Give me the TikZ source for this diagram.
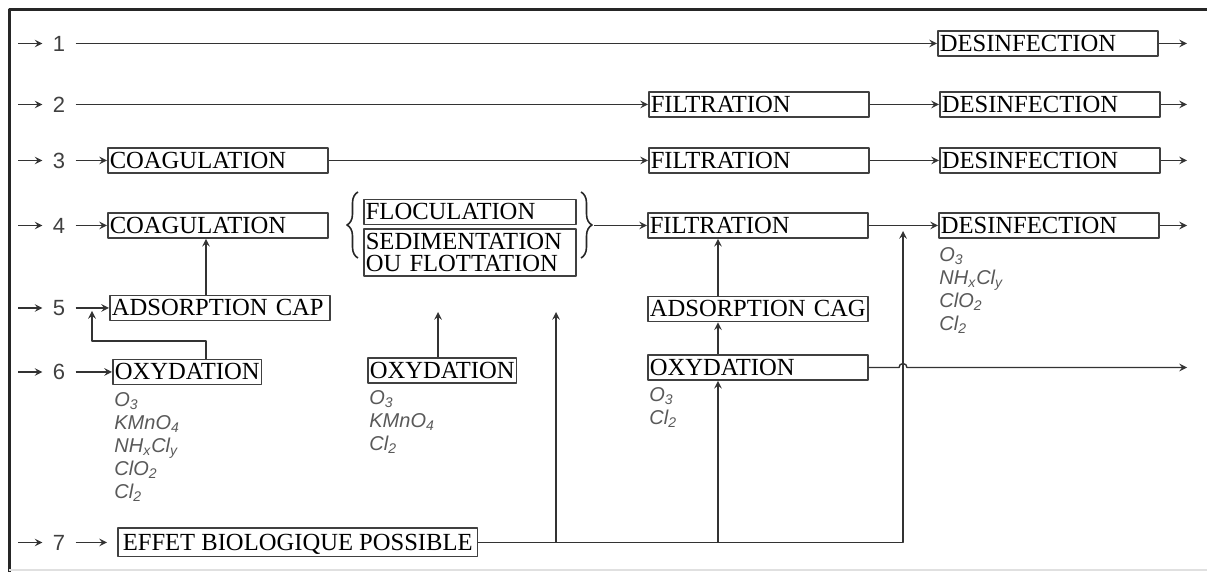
\documentclass[tikz,border=0pt]{standalone}
\usepackage{fontspec}
\setmainfont{Liberation Serif}
\newfontfamily\arialfont{Liberation Sans}
\usetikzlibrary{decorations.pathreplacing}

\tikzset{
  box/.style={draw=black!75, line width=0.8pt, anchor=west, align=left,
    inner xsep=1pt, inner ysep=0.65pt, text height=9.6pt, text depth=1.6pt,
    font=\fontsize{12.3}{11}\selectfont},
  wide/.style={text width=108pt},
  num/.style={font=\arialfont\fontsize{11}{13}\selectfont, text=black!75, inner xsep=5pt},
  chem/.style={anchor=north west, align=left, inner sep=0pt, text=black!65,
    font=\arialfont\itshape\fontsize{10}{11.5}\selectfont},
  link/.style={->, draw=black!80, line width=0.7pt},
  accolade/.style={decorate, decoration={brace, amplitude=5.5pt}, draw=black!85, line width=0.8pt}
}

\begin{document}
\begin{tikzpicture}[x=0.5pt, y=-0.5pt, >=stealth, line join=round]
\useasboundingbox (0,0) rectangle (1207,572);
% cadre
\draw[line width=1.5pt, black!85] (9,572) -- (9,10) -- (1207,10);
\draw[black!12, line width=0.6pt] (9,570) -- (1207,570);

% entrees 1 a 7
\foreach \i/\y in {1/43.5,2/104.5,3/160.5,4/225.5,5/308,6/372,7/542.5}{
  \coordinate (in\i) at (18,\y);
  \node[num] (n\i) at (59,\y) {\i};
  \draw[link] (in\i) -- (n\i);
}

% sorties
\coordinate (out1) at (1187,43.5);
\coordinate (out2) at (1187,104.5);
\coordinate (out3) at (1187,160.5);
\coordinate (out4) at (1187,225.5);
\coordinate (out6) at (1187,367.5);

% etapes
\node[box, wide] (des1) at (937,43.5) {DESINFECTION};
\node[box, wide] (filt2) at (648,104.5) {FILTRATION};
\node[box, wide] (des2) at (939,104.5) {DESINFECTION};
\node[box, wide] (coag3) at (107,160.5) {COAGULATION};
\node[box, wide] (filt3) at (648,160.5) {FILTRATION};
\node[box, wide] (des3) at (939,160.5) {DESINFECTION};
\node[box, wide] (coag4) at (107,225.5) {COAGULATION};
\node[box, text width=104pt] (floc) at (363,212) {FLOCULATION};
\node[box, text width=104pt, anchor=north west, text depth=12.6pt] (sed) at (363,228) {SEDIMENTATION\\OU FLOTTATION};
\node[box, wide] (filt4) at (647,225.5) {FILTRATION};
\node[box, wide] (des4) at (938,225.5) {DESINFECTION};
\node[box, wide] (adscap) at (109,308) {ADSORPTION CAP};
\node[box, wide] (adscag) at (647,309) {ADSORPTION CAG};
\node[box] (oxy6) at (112,372) {OXYDATION};
\node[box] (oxym) at (367,370.5) {OXYDATION};
\node[box, wide] (oxyr) at (647,367.5) {OXYDATION};
\node[box, inner xsep=2.5pt, inner ysep=1.5pt] (effet) at (117,542.5) {EFFET BIOLOGIQUE POSSIBLE};

% reactifs
\node[chem] (ch6) at (114,392) {O\textsubscript{3}\\KMnO\textsubscript{4}\\NH\textsubscript{x}Cl\textsubscript{y}\\ClO\textsubscript{2}\\Cl\textsubscript{2}};
\node[chem] (chm) at (369,390) {O\textsubscript{3}\\KMnO\textsubscript{4}\\Cl\textsubscript{2}};
\node[chem] (chr) at (649,387) {O\textsubscript{3}\\Cl\textsubscript{2}};
\node[chem] (chd) at (939,247) {O\textsubscript{3}\\NH\textsubscript{x}Cl\textsubscript{y}\\ClO\textsubscript{2}\\Cl\textsubscript{2}};

% accolades
\draw[accolade] (358,258) -- (358,192);
\draw[accolade] (581,192) -- (581,258);
\coordinate (btip) at (594,225.5);

% lignes horizontales
\draw[link] (n1) -- (des1);
\draw[link] (des1) -- (out1);
\draw[link] (n2) -- (filt2);
\draw[link] (filt2) -- (des2);
\draw[link] (des2) -- (out2);
\draw[link] (n3) -- (coag3);
\draw[link] (coag3) -- (filt3);
\draw[link] (filt3) -- (des3);
\draw[link] (des3) -- (out3);
\draw[link] (n4) -- (coag4);
\draw[link] (btip) -- (filt4);
\draw[link] (filt4) -- (des4);
\draw[link] (des4) -- (out4);
\draw[link] (n5) -- (adscap);
\draw[link] (n6) -- (oxy6);
\draw[link, shorten >=5pt] (n7) -- (effet);

% remontees
\coordinate (cv) at (206,0);
\coordinate (fb) at (92,341);
\coordinate (fbtip) at (92,311);
\draw[link] (adscap.north -| cv) -- (coag4.south -| cv);
\draw[link] (oxy6.north -| cv) |- (fb) -- (fbtip);
\coordinate (mtip) at (438,312);
\draw[link] (oxym.north -| mtip) -- (mtip);
\coordinate (cr) at (718,0);
\draw[link] (oxyr.north -| cr) -- (adscag.south -| cr);
\draw[link] (adscag.north -| cr) -- (filt4.south -| cr);

% effet biologique
\coordinate (t4) at (903,231);
\coordinate (stip) at (556,312);
\draw[link] (effet.east) -| (t4);
\draw[link] (effet.east -| stip) -- (stip);
\draw[link] (effet.east -| cr) -- (oxyr.south -| cr);

% sortie oxydation avec saut
\coordinate (hop) at (899,367.5);
\draw[link] (oxyr.east) -- (hop) arc[start angle=180, end angle=0, radius=2pt] -- (out6);
\end{tikzpicture}
\end{document}
